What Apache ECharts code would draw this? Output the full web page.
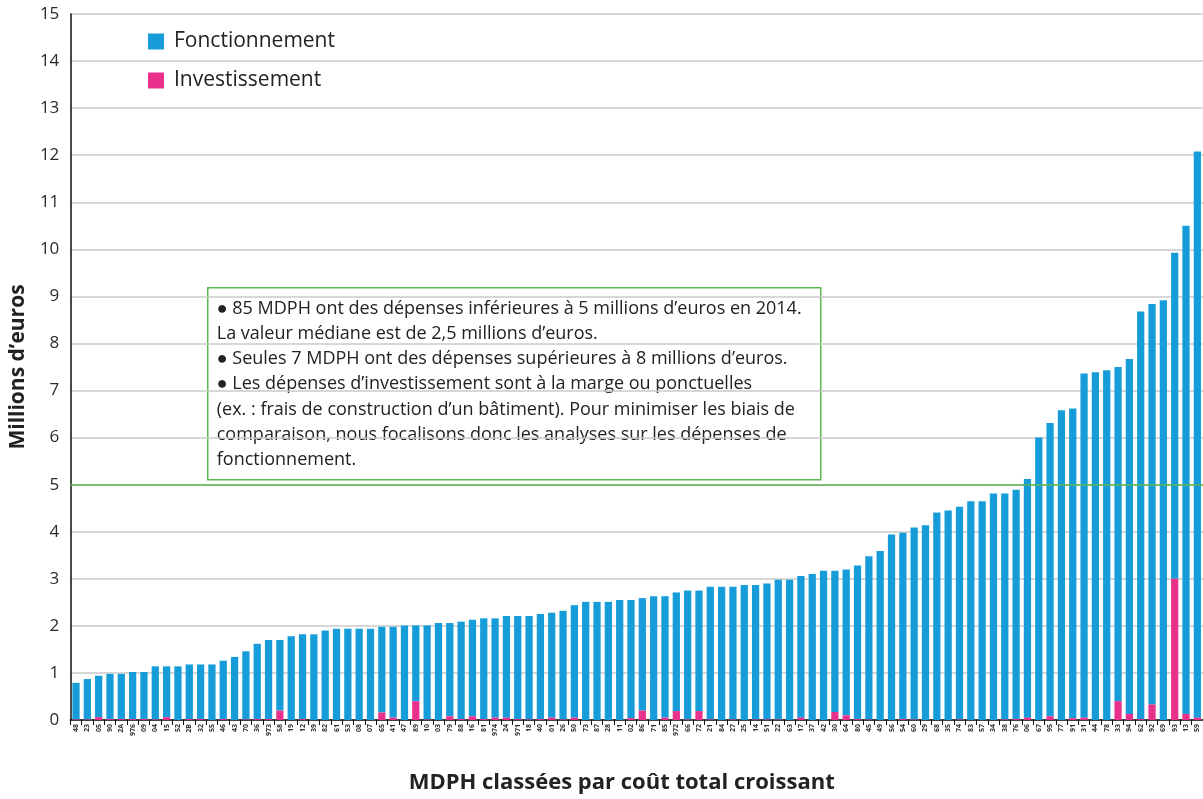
<!DOCTYPE html>
<html lang="fr">
<head>
<meta charset="utf-8">
<title>Dépenses des MDPH en 2014</title>
<script src="https://cdn.jsdelivr.net/npm/echarts@6/dist/echarts.min.js"></script>
<style>
  html, body { margin: 0; padding: 0; background: #ffffff; }
  #chart { width: 1203px; height: 799px; }
</style>
</head>
<body>
<div id="chart"></div>
<script>
// Départements (MDPH), classés par coût total croissant
const departements = [
  '48','23','05','90','2A','976','09','04','15','52',
  '2B','32','55','46','43','70','36','973','58','19',
  '12','39','82','61','53','08','07','65','41','47',
  '89','10','03','79','88','16','81','974','24','971',
  '18','40','01','26','50','73','87','28','11','02',
  '86','71','85','972','66','72','21','84','27','25',
  '14','51','22','63','17','37','42','30','64','80',
  '45','49','56','54','60','29','68','35','74','83',
  '57','34','38','76','06','67','95','77','91','31',
  '44','78','33','94','62','92','69','93','13','59'
];

// Coût total par MDPH (millions d'euros)
const coutTotal = [
  0.79, 0.87, 0.94, 0.98, 0.98, 1.02, 1.02, 1.14, 1.14, 1.14,
  1.18, 1.18, 1.18, 1.26, 1.34, 1.46, 1.62, 1.70, 1.70, 1.78,
  1.82, 1.82, 1.90, 1.94, 1.94, 1.94, 1.94, 1.98, 1.98, 2.01,
  2.01, 2.01, 2.06, 2.06, 2.09, 2.13, 2.16, 2.16, 2.21, 2.21,
  2.21, 2.25, 2.28, 2.32, 2.44, 2.51, 2.51, 2.51, 2.55, 2.55,
  2.59, 2.63, 2.63, 2.71, 2.75, 2.75, 2.83, 2.83, 2.83, 2.87,
  2.87, 2.90, 2.98, 2.98, 3.06, 3.10, 3.17, 3.17, 3.20, 3.28,
  3.48, 3.59, 3.94, 3.98, 4.09, 4.14, 4.41, 4.45, 4.53, 4.65,
  4.65, 4.81, 4.81, 4.89, 5.12, 6.00, 6.31, 6.58, 6.62, 7.36,
  7.39, 7.43, 7.50, 7.67, 8.68, 8.84, 8.92, 9.93, 10.50, 12.08
];

// Dépenses d'investissement (millions d'euros)
const investissement = [
  0.01, 0.01, 0.06, 0.02, 0.02, 0.02, 0.02, 0.01, 0.06, 0.00,
  0.02, 0.02, 0.00, 0.02, 0.00, 0.01, 0.02, 0.02, 0.20, 0.00,
  0.02, 0.00, 0.00, 0.00, 0.00, 0.00, 0.00, 0.16, 0.05, 0.00,
  0.40, 0.01, 0.00, 0.08, 0.02, 0.08, 0.02, 0.05, 0.05, 0.02,
  0.01, 0.02, 0.05, 0.01, 0.05, 0.00, 0.00, 0.00, 0.00, 0.04,
  0.20, 0.00, 0.05, 0.19, 0.01, 0.19, 0.01, 0.00, 0.01, 0.00,
  0.01, 0.01, 0.01, 0.00, 0.05, 0.00, 0.00, 0.17, 0.10, 0.02,
  0.01, 0.00, 0.00, 0.02, 0.01, 0.00, 0.00, 0.00, 0.01, 0.00,
  0.00, 0.00, 0.01, 0.02, 0.05, 0.00, 0.08, 0.00, 0.04, 0.05,
  0.00, 0.00, 0.40, 0.13, 0.02, 0.33, 0.00, 3.00, 0.13, 0.05
];

// Dépenses de fonctionnement = coût total - investissement
const fonctionnement = coutTotal.map((t, i) => +(t - investissement[i]).toFixed(2));

const seuil = 5;
const yTicks = { min: 0, max: 15, interval: 1 };

const FONT = '"Open Sans", "Liberation Sans", sans-serif';
const BLUE = '#169dd9';
const PINK = '#e8318a';
const GREEN = '#5cb94f';

const encadre = [
  '● 85 MDPH ont des dépenses inférieures à 5 millions d’euros en 2014.',
  'La valeur médiane est de 2,5 millions d’euros.',
  '● Seules 7 MDPH ont des dépenses supérieures à 8 millions d’euros.',
  '● Les dépenses d’investissement sont à la marge ou ponctuelles',
  '(ex. : frais de construction d’un bâtiment). Pour minimiser les biais de',
  'comparaison, nous focalisons donc les analyses sur les dépenses de',
  'fonctionnement.'
];

const chart = echarts.init(document.getElementById('chart'), null, { renderer: 'canvas' });

chart.setOption({
  animation: false,
  backgroundColor: '#ffffff',
  textStyle: { fontFamily: FONT },
  grid: { left: 68, right: 0, top: 14, bottom: 73, containLabel: false },
  legend: {
    data: ['Fonctionnement', 'Investissement'],
    orient: 'vertical',
    left: 148,
    top: 31,
    padding: 0,
    itemWidth: 16,
    itemHeight: 16,
    itemGap: 18,
    icon: 'rect',
    selectedMode: false,
    textStyle: { fontFamily: FONT, fontSize: 21, color: '#222', padding: [0, 0, 0, 5] }
  },
  xAxis: {
    type: 'category',
    data: departements,
    boundaryGap: true,
    name: 'MDPH classées par coût total croissant',
    nameLocation: 'middle',
    nameGap: 52,
    nameTextStyle: { fontFamily: FONT, fontSize: 22, fontWeight: 'bold', color: '#222', padding: [0, 30, 0, 0] },
    axisLine: { lineStyle: { color: '#111', width: 1.5 } },
    axisTick: { show: true, length: 5, lineStyle: { color: '#111', width: 1 } },
    axisLabel: { interval: 0, rotate: 90, fontSize: 7, fontWeight: 'bold', color: '#333', margin: 4, fontFamily: FONT },
    splitLine: { show: false }
  },
  yAxis: {
    type: 'value',
    min: yTicks.min,
    max: yTicks.max,
    interval: yTicks.interval,
    name: 'Millions d’euros',
    nameLocation: 'middle',
    nameRotate: 90,
    nameGap: 36,
    nameTextStyle: { fontFamily: FONT, fontSize: 21, fontWeight: 'bold', color: '#222' },
    axisLine: { show: true, lineStyle: { color: '#111', width: 1.5 } },
    axisTick: { show: false },
    axisLabel: { fontSize: 17, color: '#2a2a2a', margin: 11, fontFamily: FONT },
    splitLine: { show: true, lineStyle: { color: '#cacaca', width: 1.5 } }
  },
  series: [
    {
      name: 'Investissement',
      type: 'bar',
      stack: 'total',
      data: investissement,
      barWidth: '64%',
      itemStyle: { color: PINK },
      z: 3
    },
    {
      name: 'Fonctionnement',
      type: 'bar',
      stack: 'total',
      data: fonctionnement,
      barWidth: '64%',
      itemStyle: { color: BLUE },
      z: 2,
      markLine: {
        silent: true,
        symbol: 'none',
        label: { show: false },
        lineStyle: { color: GREEN, width: 1.5, type: 'solid' },
        data: [{ yAxis: seuil }]
      }
    }
  ],
  graphic: [
    {
      type: 'group',
      left: 207,
      top: 287,
      z: 100,
      children: [
        {
          type: 'rect',
          shape: { x: 0, y: 0, width: 613, height: 192 },
          style: { fill: '#ffffff', stroke: GREEN, lineWidth: 1.5 }
        },
        {
          type: 'text',
          x: 9,
          y: 8,
          style: {
            text: encadre.join('\n'),
            fontFamily: FONT,
            fontSize: 18,
            lineHeight: 25.3,
            fill: '#222'
          }
        }
      ]
    }
  ]
});
</script>
</body>
</html>
